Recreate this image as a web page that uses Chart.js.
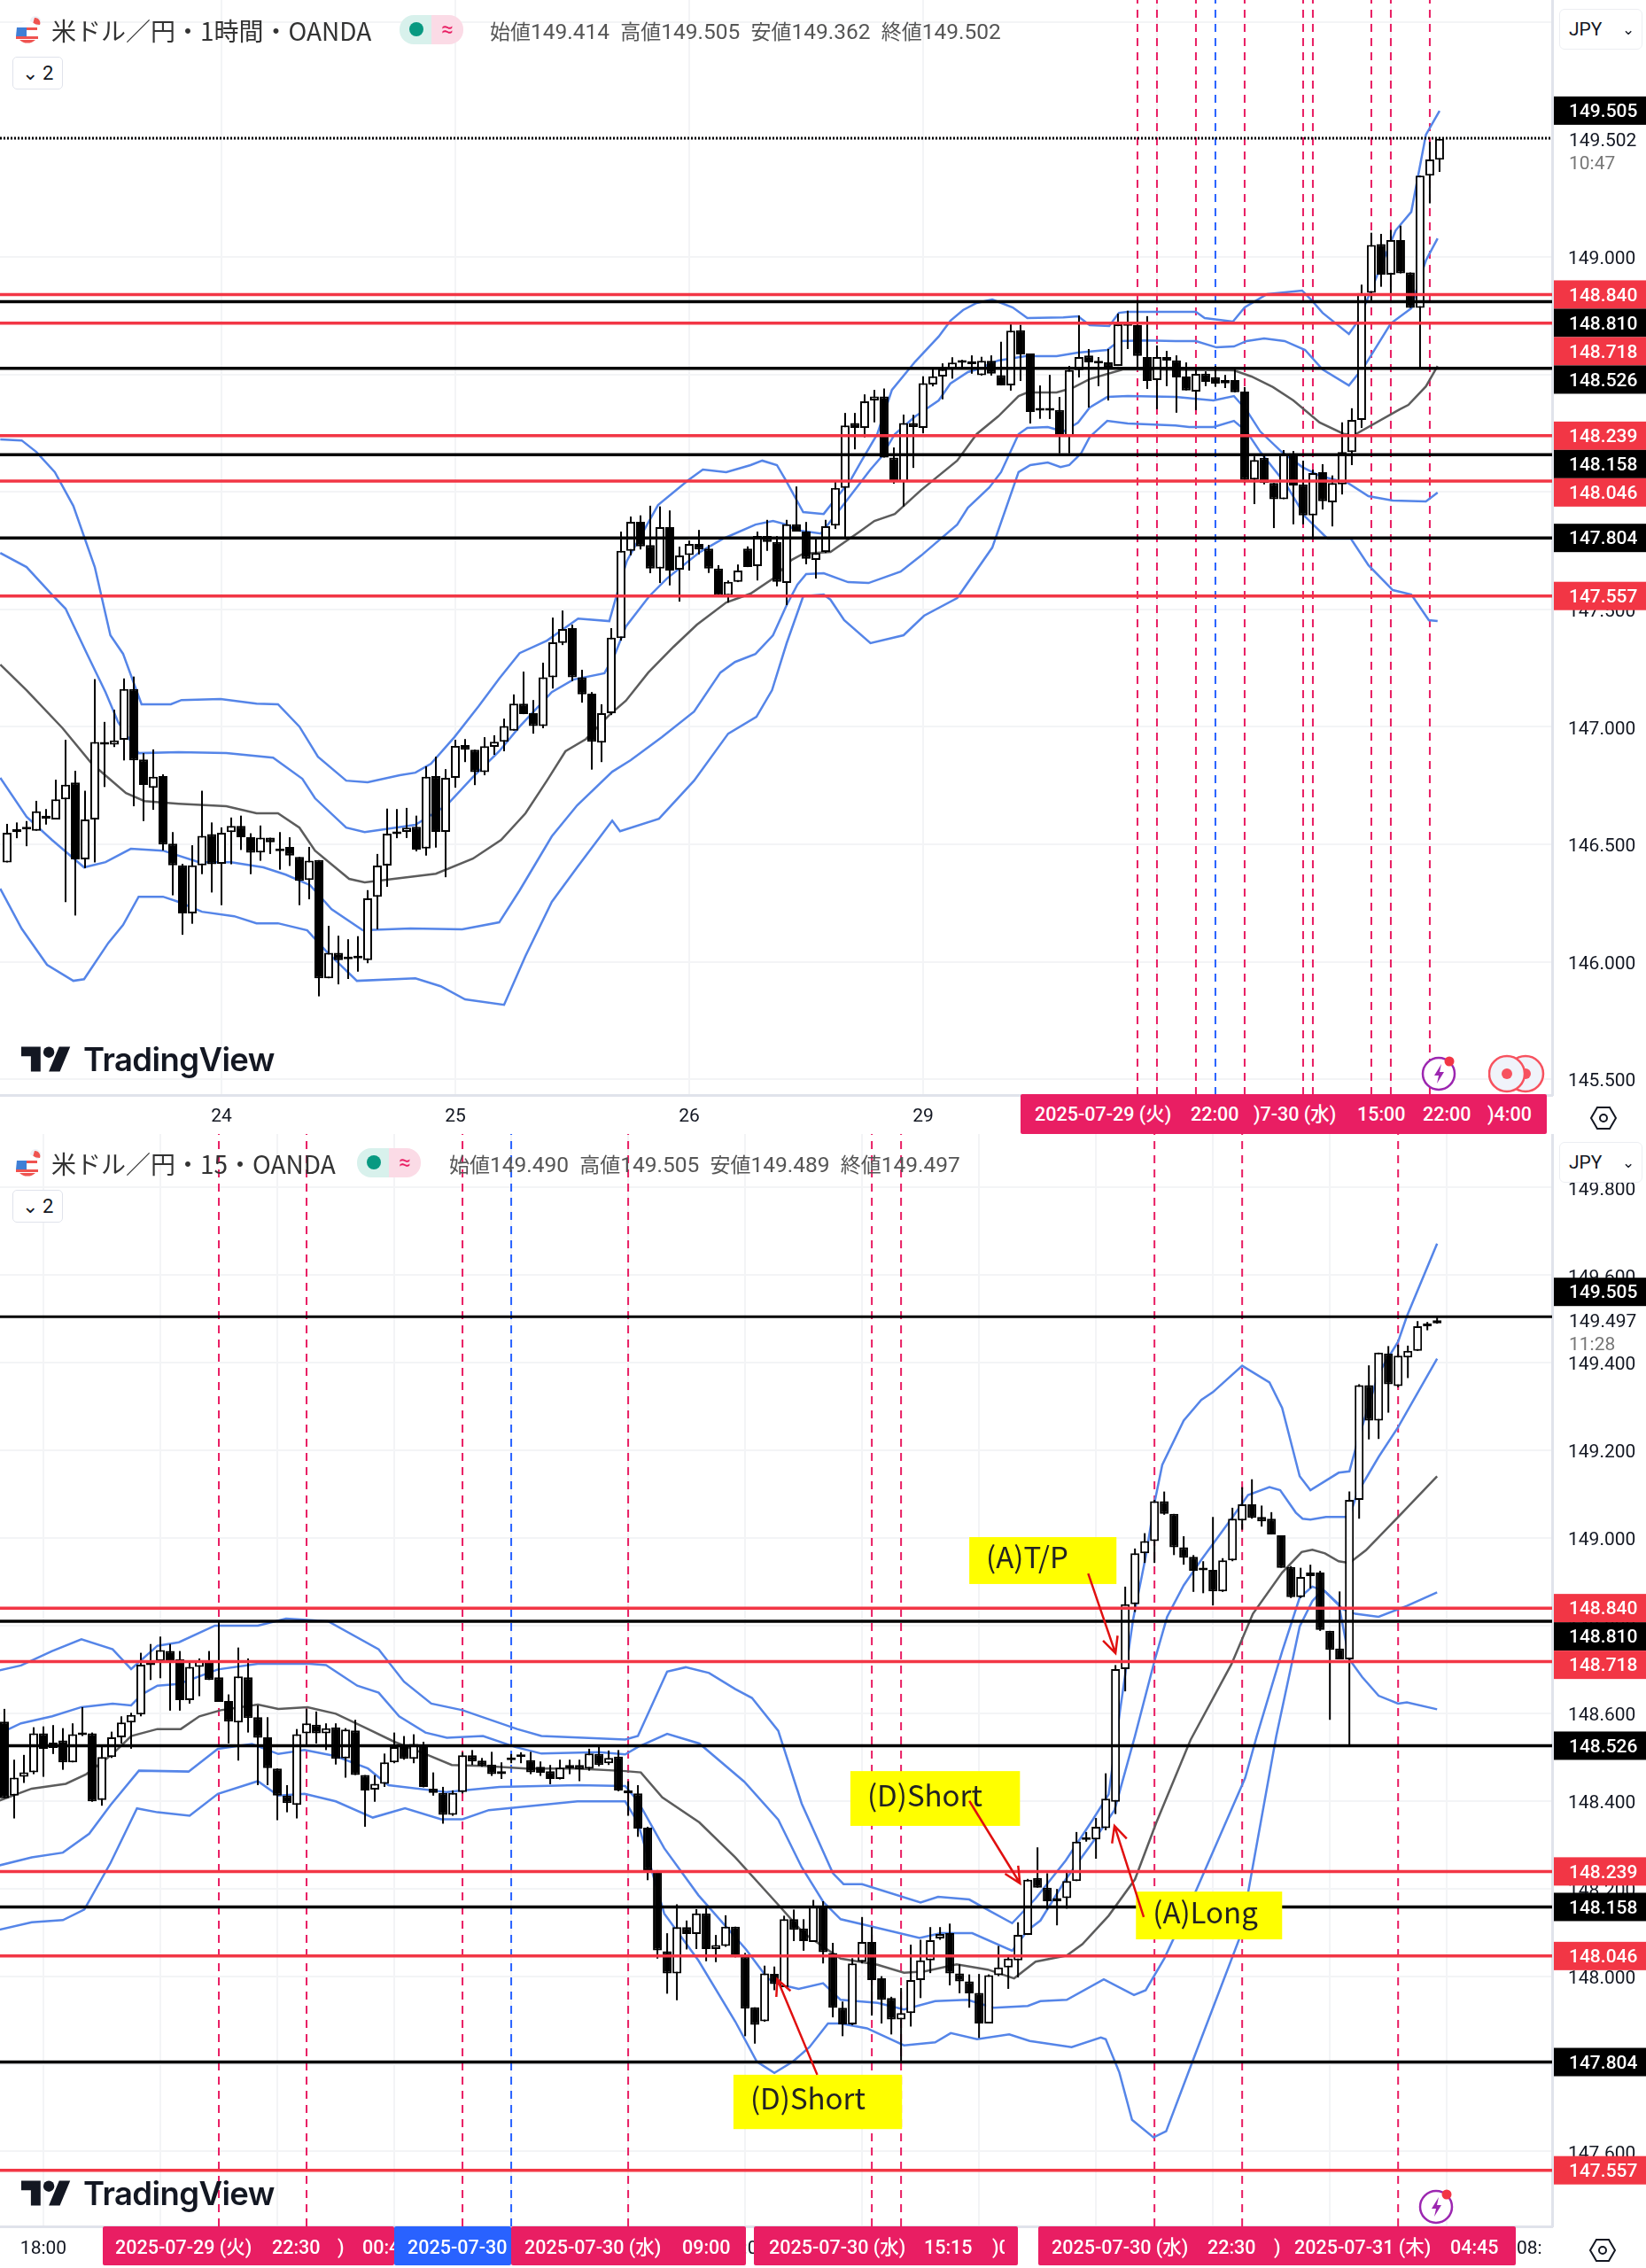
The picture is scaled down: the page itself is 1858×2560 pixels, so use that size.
<!DOCTYPE html>
<html>
<head>
<meta charset="utf-8">
<title>USD/JPY</title>
<script src="https://cdn.jsdelivr.net/npm/chart.js@4/dist/chart.umd.min.js"></script>
<style>
  html, body { margin: 0; padding: 0; background: #fff; }
  #page { position: relative; width: 1858px; height: 2560px; overflow: hidden; font-family: Roboto, "Noto Sans CJK JP", sans-serif; color: #131722; }
  canvas { position: absolute; left: 0; }
  .abs { position: absolute; white-space: nowrap; }
  .title { font-family: "Noto Sans CJK JP", Roboto, sans-serif; font-size: 28px; line-height: 34px; color: #333; }
  .ohlc { font-size: 24.5px; line-height: 34px; color: #555; font-family: Roboto, "Noto Sans CJK JP", sans-serif; }
  .ohlc b { font-weight: 400; font-family: "Noto Sans CJK JP"; font-size: 23px; }
  .chip { position: absolute; }
  .chipText { position: absolute; color: #fff; font-size: 21.5px; font-weight: 500; line-height: 30px; overflow: hidden; white-space: nowrap; height: 30px; }
  .chipText span { position: absolute; }
  .jpy { position: absolute; left: 1760px; width: 94px; height: 46px; background: #fff; border: 1px solid #eceef2; border-radius: 6px; box-sizing: border-box; font-size: 21px; line-height: 44px; padding-left: 10px; }
  .fold { position: absolute; left: 14px; width: 57px; height: 37px; background: #fff; border: 1px solid #e0e3eb; border-radius: 5px; box-sizing: border-box; font-size: 22px; line-height: 35px; text-align: center; }
  .logoText { font-family: Inter, sans-serif; font-weight: 600; font-size: 36.5px; line-height: 44px; letter-spacing: -0.6px; color: #131722; }
</style>
</head>
<body>
<div id="page">
  <canvas id="topChart" width="1858" height="1280" style="top:0"></canvas>
  <canvas id="bottomChart" width="1858" height="1280" style="top:1280px"></canvas>
  <div id="overlay"></div>
</div>
<script>
// price levels (top and bottom panels share them)
const redLevels = [148.840, 148.718, 148.239, 148.046, 147.557];
const blackLevels = [148.810, 148.526, 148.158, 147.804];
const highLevel = 149.505;

// y axis ticks
const topYTicks = [150, 149.5, 149, 148.5, 148, 147.5, 147, 146.5, 146, 145.5];
const bottomYTicks = [149.8, 149.6, 149.4, 149.2, 149, 148.8, 148.6, 148.4, 148.2, 148, 147.8, 147.6];

// x axis ticks (candle number -> label)
const topXTicks = [22, 46, 70, 94, 118, 142];
const topXLabels = ['24', '25', '26', '29', '30', '31'];
const bottomXTicks = [4, 16, 28, 40, 52, 64, 76, 88, 100, 112, 124, 136, 148];
const bottomXLabels = ['18:00', '21:00', '00:00', '03:00', '06:00', '09:00', '12:00', '15:00', '18:00', '21:00', '00:00', '03:00', '06:00'];

// dashed vertical markers (candle numbers)
const topMarkers = [116, 118, 122, 127, 133, 134, 140, 142, 146];
const topBlueMarkers = [124];
const bottomMarkers = [22, 31, 47, 64, 89, 92, 118, 127, 143];
const bottomBlueMarkers = [52];

// last price text on the axis
const topLast = 149.502, topCountdown = '10:47';
const bottomLast = 149.497, bottomCountdown = '11:28';

// 1 hour candles: open, high, low, close
const topCandles = [
[146.423,146.587,146.423,146.549],[146.552,146.593,146.526,146.564],[146.565,146.599,146.492,146.563],[146.558,146.685,146.558,146.641],
[146.622,146.650,146.584,146.609],[146.606,146.775,146.606,146.691],[146.691,146.945,146.254,146.754],[146.763,146.813,146.197,146.436],
[146.436,146.728,146.398,146.606],[146.606,147.203,146.423,146.936],[146.936,147.021,146.744,146.924],[146.924,147.073,146.914,146.942],
[146.945,147.206,146.857,147.161],[147.161,147.214,146.662,146.857],[146.861,146.888,146.599,146.753],[146.740,146.904,146.647,146.788],
[146.790,146.798,146.474,146.499],[146.503,146.552,146.283,146.411],[146.411,146.417,146.115,146.206],[146.206,146.496,146.162,146.411],
[146.411,146.728,146.373,146.536],[146.543,146.593,146.295,146.415],[146.417,146.572,146.241,146.549],[146.552,146.614,146.415,146.578],
[146.578,146.622,146.476,146.530],[146.530,146.547,146.373,146.464],[146.465,146.580,146.430,146.528],[146.528,146.528,146.459,146.509],
[146.474,146.552,146.392,146.471],[146.489,146.530,146.408,146.452],[146.446,146.446,146.241,146.345],[146.348,146.489,146.266,146.430],
[146.433,146.433,145.853,145.930],[145.930,146.153,145.930,146.038],[146.038,146.111,145.904,146.007],[146.017,146.096,145.927,146.011],
[146.017,146.109,145.958,146.015],[146.007,146.305,145.994,146.270],[146.277,146.459,146.138,146.410],[146.410,146.652,146.319,146.545],
[146.547,146.650,146.526,146.543],[146.553,146.655,146.527,146.571],[146.575,146.622,146.470,146.477],[146.482,146.832,146.452,146.788],
[146.790,146.873,146.486,146.553],[146.553,146.820,146.360,146.783],[146.783,146.945,146.741,146.919],[146.922,146.948,146.850,146.903],
[146.903,146.903,146.752,146.807],[146.807,146.956,146.794,146.918],[146.915,146.964,146.881,146.937],[146.937,147.035,146.896,147.003],
[146.984,147.138,146.984,147.099],[147.099,147.235,147.054,147.054],[147.058,147.114,146.971,147.003],[147.003,147.273,146.994,147.211],
[147.211,147.465,147.163,147.360],[147.357,147.495,147.348,147.416],[147.420,147.435,147.195,147.211],[147.211,147.243,147.103,147.138],
[147.141,147.148,146.818,146.937],[146.933,147.096,146.850,147.058],[147.058,147.420,147.050,147.380],[147.378,147.831,147.367,147.749],
[147.749,147.895,147.730,147.873],[147.873,147.900,147.755,147.768],[147.774,147.941,147.654,147.674],[147.674,147.938,147.612,147.850],
[147.850,147.921,147.602,147.665],[147.669,147.767,147.533,147.729],[147.731,147.793,147.665,147.778],[147.778,147.838,147.734,147.755],
[147.759,147.774,147.655,147.674],[147.674,147.688,147.559,147.559],[147.559,147.623,147.529,147.617],[147.617,147.691,147.616,147.665],
[147.759,147.768,147.680,147.680],[147.684,147.831,147.623,147.812],[147.812,147.881,147.749,147.787],[147.787,147.812,147.598,147.617],
[147.612,147.881,147.518,147.862],[147.862,148.023,147.831,147.831],[147.831,147.872,147.692,147.715],[147.710,147.806,147.631,147.740],
[147.744,147.881,147.740,147.854],[147.857,148.046,147.842,148.017],[148.017,148.336,147.805,148.283],[148.293,148.336,148.181,148.272],
[148.272,148.415,148.232,148.385],[148.389,148.434,148.296,148.406],[148.406,148.440,148.146,148.146],[148.146,148.189,148.035,148.042],
[148.042,148.329,147.938,148.293],[148.293,148.328,148.102,148.276],[148.272,148.492,148.249,148.463],[148.457,148.527,148.449,148.492],
[148.491,148.547,148.394,148.522],[148.525,148.573,148.482,148.550],[148.553,148.562,148.529,148.549],[148.547,148.581,148.503,148.544],
[148.497,148.575,148.495,148.558],[148.558,148.581,148.495,148.503],[148.497,148.639,148.453,148.453],[148.453,148.717,148.431,148.686],
[148.688,148.711,148.472,148.585],[148.589,148.589,148.291,148.340],[148.352,148.453,148.311,148.346],[148.352,148.498,148.310,148.346],
[148.349,148.404,148.164,148.238],[148.238,148.536,148.164,148.518],[148.518,148.751,148.487,148.574],[148.581,148.608,148.359,148.551],
[148.553,148.574,148.450,148.547],[148.551,148.608,148.389,148.529],[148.536,148.759,148.536,148.713],[148.713,148.771,148.608,148.707],
[148.710,148.809,148.529,148.579],[148.574,148.748,148.438,148.472],[148.476,148.623,148.352,148.574],[148.574,148.600,148.450,148.559],
[148.560,148.581,148.337,148.487],[148.491,148.551,148.432,148.432],[148.427,148.521,148.348,148.502],[148.503,148.513,148.450,148.468],
[148.488,148.536,148.447,148.461],[148.462,148.498,148.442,148.476],[148.476,148.521,148.424,148.424],[148.427,148.446,148.038,148.051],
[148.053,148.151,147.948,148.136],[148.145,148.160,148.032,148.038],[148.038,148.038,147.846,147.969],[147.969,148.178,147.969,148.162],
[148.164,148.174,147.862,148.027],[148.032,148.133,147.862,147.900],[147.900,148.095,147.806,148.080],[148.084,148.118,147.925,147.960],
[147.956,148.070,147.853,148.038],[148.032,148.296,147.989,148.170],[148.170,148.356,148.114,148.306],[148.306,148.882,148.272,148.846],
[148.847,149.103,148.812,149.051],[149.055,149.098,148.873,148.925],[148.925,149.115,148.843,149.072],[149.072,149.133,148.930,148.930],
[148.934,148.934,148.783,148.783],[148.783,149.346,148.526,149.346],[149.346,149.490,149.228,149.415],[149.414,149.505,149.362,149.502]
];

// 15 minute candles: open, high, low, close
const bottomCandles = [
[148.581,148.610,148.406,148.406],[148.412,148.494,148.360,148.453],[148.455,148.505,148.441,148.465],[148.465,148.568,148.461,148.554],
[148.554,148.570,148.455,148.519],[148.521,148.573,148.507,148.533],[148.538,148.566,148.471,148.488],[148.488,148.577,148.488,148.552],
[148.552,148.614,148.548,148.550],[148.554,148.556,148.398,148.399],[148.402,148.523,148.389,148.500],[148.500,148.558,148.498,148.545],
[148.545,148.593,148.531,148.579],[148.579,148.601,148.519,148.596],[148.597,148.738,148.593,148.711],[148.717,148.758,148.676,148.710],
[148.719,148.775,148.680,148.744],[148.742,148.758,148.606,148.719],[148.723,148.742,148.606,148.630],[148.630,148.721,148.622,148.706],
[148.706,148.725,148.639,148.719],[148.721,148.742,148.676,148.676],[148.682,148.810,148.626,148.626],[148.628,148.643,148.531,148.581],
[148.579,148.750,148.492,148.684],[148.682,148.725,148.556,148.589],[148.591,148.618,148.436,148.544],[148.545,148.591,148.436,148.475],
[148.474,148.474,148.356,148.412],[148.412,148.436,148.374,148.395],[148.391,148.564,148.360,148.552],[148.554,148.610,148.523,148.577],
[148.574,148.604,148.531,148.554],[148.554,148.577,148.516,148.566],[148.568,148.577,148.483,148.496],[148.497,148.566,148.453,148.563],
[148.561,148.585,148.459,148.459],[148.459,148.459,148.341,148.424],[148.426,148.459,148.398,148.439],[148.439,148.508,148.432,148.488],
[148.488,148.556,148.486,148.523],[148.523,148.548,148.494,148.496],[148.496,148.552,148.486,148.530],[148.527,148.535,148.431,148.432],
[148.428,148.465,148.412,148.418],[148.418,148.432,148.348,148.368],[148.368,148.424,148.366,148.418],[148.420,148.511,148.417,148.504],
[148.504,148.516,148.482,148.490],[148.492,148.498,148.478,148.480],[148.483,148.512,148.457,148.461],[148.461,148.488,148.450,148.468],
[148.496,148.507,148.486,148.493],[148.500,148.511,148.486,148.502],[148.493,148.512,148.461,148.465],[148.478,148.490,148.457,148.464],
[148.468,148.482,148.438,148.450],[148.450,148.494,148.449,148.476],[148.474,148.494,148.461,148.482],[148.482,148.494,148.445,148.472],
[148.474,148.519,148.469,148.508],[148.507,148.527,148.479,148.482],[148.486,148.515,148.482,148.498],[148.501,148.516,148.422,148.424],
[148.424,148.445,148.366,148.417],[148.417,148.436,148.318,148.337],[148.339,148.341,148.219,148.242],[148.241,148.242,148.040,148.059],
[148.057,148.098,147.960,148.006],[148.006,148.164,147.945,148.112],[148.112,148.127,148.061,148.096],[148.096,148.153,148.062,148.143],
[148.143,148.156,148.034,148.062],[148.062,148.094,148.032,148.071],[148.069,148.139,148.067,148.113],[148.113,148.113,148.043,148.044],
[148.044,148.053,147.863,147.926],[147.929,147.929,147.846,147.889],[147.897,148.024,147.896,148.006],[148.005,148.022,147.968,147.982],
[147.975,148.138,147.975,148.130],[148.130,148.152,148.080,148.106],[148.109,148.130,148.058,148.080],[148.078,148.174,148.078,148.159],
[148.159,148.171,148.029,148.055],[148.053,148.076,147.906,147.928],[147.928,147.942,147.863,147.890],[147.890,148.041,147.888,148.029],
[148.033,148.135,148.029,148.078],[148.078,148.112,147.910,147.991],[147.995,148.000,147.892,147.946],[147.950,147.953,147.867,147.901],
[147.901,147.973,147.806,147.916],[147.916,148.072,147.885,147.991],[147.991,148.083,147.950,148.036],[148.036,148.112,148.007,148.082],
[148.086,148.112,148.083,148.096],[148.098,148.120,147.979,148.006],[148.006,148.027,147.961,147.988],[147.988,148.004,147.928,147.961],
[147.962,148.005,147.859,147.892],[147.892,148.004,147.892,148.002],[148.002,148.069,148.000,148.020],[148.020,148.047,147.971,148.040],
[148.036,148.123,147.997,148.094],[148.094,148.222,148.094,148.220],[148.224,148.294,148.202,148.202],[148.202,148.235,148.152,148.171],
[148.171,148.199,148.116,148.178],[148.178,148.242,148.154,148.217],[148.217,148.329,148.217,148.307],[148.312,148.329,148.307,148.311],
[148.312,148.361,148.268,148.341],[148.338,148.463,148.333,148.405],[148.398,148.710,148.370,148.701],[148.701,148.889,148.650,148.849],
[148.849,148.976,148.831,148.965],[148.965,149.011,148.943,148.993],[148.993,149.087,148.943,149.084],[149.084,149.106,149.053,149.055],
[149.055,149.055,148.961,148.979],[148.979,149.004,148.939,148.955],[148.957,148.961,148.877,148.925],[148.927,148.947,148.874,148.926],
[148.927,149.048,148.846,148.878],[148.878,148.954,148.877,148.949],[148.949,149.069,148.947,149.044],[149.040,149.116,149.019,149.077],
[149.077,149.134,149.044,149.046],[149.048,149.074,149.026,149.038],[149.044,149.059,149.008,149.008],[149.006,149.006,148.932,148.932],
[148.934,148.936,148.863,148.865],[148.865,148.932,148.863,148.911],[148.913,148.939,148.885,148.921],[148.921,148.925,148.788,148.790],
[148.788,148.788,148.585,148.745],[148.748,148.878,148.723,148.723],[148.723,149.106,148.526,149.087],[149.087,149.351,149.044,149.349],
[149.349,149.394,149.225,149.268],[149.268,149.423,149.226,149.423],[149.421,149.438,149.286,149.351],[149.347,149.441,149.344,149.416],
[149.412,149.439,149.365,149.427],[149.427,149.495,149.427,149.483],[149.483,149.493,149.474,149.490],[149.490,149.505,149.489,149.497]
];

// bands, [candle number, price]
const topUpper2 = [[-0.7,148.223],[1.5,148.219],[3,148.17],[4.9,148.084],[6.8,147.94],[9,147.68],[10.6,147.39],[11.9,147.311],[13.8,147.096],[16.8,147.096],[17.9,147.114],[21.9,147.118],[25.6,147.099],[27.8,147.096],[30,147.001],[31.9,146.873],[34.8,146.771],[37,146.764],[40.3,146.794],[41.9,146.805],[43.5,146.843],[45.9,146.956],[48.4,147.088],[50.5,147.205],[52.6,147.314],[55.4,147.367],[58.6,147.461],[61.8,147.45],[62.6,147.567],[63.6,147.706],[66.8,147.944],[69.9,148.05],[71.4,148.095],[73.8,148.084],[76.3,148.114],[77.5,148.133],[79,148.114],[79.9,148.05],[81.7,147.914],[83.8,147.906],[85,147.97],[86.5,148.046],[87.7,148.133],[89.3,148.246],[90.8,148.434],[93.2,148.555],[95.6,148.661],[96.8,148.728],[98.1,148.774],[99.5,148.804],[101.1,148.819],[103.2,148.785],[104.7,148.74],[108.4,148.743],[109.9,148.747],[111.1,148.71],[113.1,148.706],[114.1,148.762],[115,148.766],[122,148.766],[122.9,148.74],[125.8,148.725],[127,148.785],[129.3,148.842],[132.9,148.857],[133.8,148.819],[135,148.762],[137.7,148.672],[138.6,148.725],[139.5,148.811],[142.5,149.113],[144.1,149.192],[145.6,149.52],[147,149.622]];
const topUpper1 = [[-0.7,147.74],[2,147.68],[4.6,147.563],[6,147.503],[8.2,147.311],[10.1,147.148],[11.4,147.02],[13.5,146.888],[17.6,146.892],[22.5,146.888],[27.3,146.869],[30.3,146.779],[31.6,146.696],[34.8,146.571],[36.7,146.552],[41.9,146.583],[45.1,146.666],[47.8,146.786],[50.5,146.896],[52.6,147.001],[55.9,147.148],[58.1,147.201],[61.3,147.228],[62.4,147.311],[63.5,147.427],[65.9,147.556],[67.7,147.631],[71.1,147.744],[73.5,147.801],[76.8,147.861],[78.6,147.876],[80,147.861],[80.9,147.838],[83.5,147.823],[85.6,147.933],[88.6,148.095],[89.7,148.148],[91.1,148.246],[93.2,148.321],[95.6,148.389],[96.8,148.461],[98.6,148.51],[99.5,148.521],[101.7,148.559],[104.5,148.578],[107.7,148.578],[109.9,148.593],[112.9,148.604],[114.1,148.642],[116.8,148.645],[119.9,148.642],[122,148.642],[124.1,148.615],[125.9,148.619],[127.2,148.642],[129,148.653],[131.1,148.642],[133.2,148.604],[135,148.521],[137.7,148.453],[139.3,148.536],[142,148.717],[144.1,148.781],[144.9,148.898],[145.6,148.985],[146.8,149.079]];
const topMiddle = [[-0.7,147.265],[2,147.156],[5.7,146.994],[8.7,146.843],[12.2,146.718],[14.1,146.684],[17.6,146.673],[22.5,146.662],[25.6,146.632],[27.8,146.632],[30,146.571],[31.6,146.473],[35.1,146.353],[36.7,146.338],[44,146.375],[47.8,146.439],[50.7,146.519],[53.2,146.632],[55.4,146.771],[57.3,146.896],[59.4,146.948],[61.8,147.05],[63.5,147.111],[65.8,147.231],[68.4,147.341],[70.8,147.435],[73.8,147.529],[76.3,147.567],[78.6,147.631],[80.5,147.71],[81.7,147.737],[84.5,147.744],[87.5,147.831],[89,147.876],[91.1,147.906],[93.8,148.008],[97.5,148.133],[99.5,148.246],[101.7,148.321],[103.8,148.408],[104.7,148.423],[107.7,148.423],[109.3,148.442],[111.1,148.48],[114.5,148.521],[116.8,148.521],[125.9,148.517],[127.7,148.491],[129.9,148.446],[132,148.389],[134.7,148.295],[137.2,148.246],[138.4,148.246],[142.9,148.351],[143.8,148.37],[145.6,148.449],[146.8,148.536]];
const topLower1 = [[-0.7,146.783],[2,146.617],[4.6,146.519],[7.9,146.402],[10.1,146.424],[12.7,146.481],[16,146.473],[19.7,146.424],[23,146.424],[26.3,146.402],[28.6,146.371],[31.1,146.326],[33.3,146.224],[36.5,146.134],[41.4,146.142],[46.7,146.138],[50.5,146.168],[52.6,146.304],[55.9,146.534],[58.5,146.666],[62.1,146.809],[64,146.858],[67.2,146.956],[70.5,147.065],[73.2,147.231],[74.7,147.276],[76.8,147.31],[78.6,147.39],[80,147.518],[81.1,147.605],[82,147.65],[83.8,147.654],[86.3,147.616],[88.4,147.612],[91.7,147.661],[93.8,147.729],[97.5,147.861],[98.6,147.933],[100.8,148.019],[102,148.084],[103.8,148.246],[104.7,148.272],[106.8,148.276],[108.4,148.257],[109.9,148.295],[111.1,148.359],[112.9,148.404],[115,148.408],[119.9,148.404],[123.8,148.389],[125.9,148.408],[127.2,148.347],[128.6,148.257],[130.8,148.17],[132.9,148.106],[134.7,148.068],[137.6,148.038],[139.7,147.982],[142.2,147.963],[145.6,147.959],[146.8,147.997]];
const topLower2 = [[-0.7,146.311],[1.5,146.141],[4.1,145.987],[6.8,145.919],[7.9,145.926],[10.4,146.081],[11.9,146.157],[13.5,146.277],[16,146.277],[17.6,146.255],[20,146.213],[23.3,146.194],[25.6,146.164],[27.8,146.164],[30.8,146.134],[32.7,146.047],[35.9,145.919],[41.9,145.93],[44.5,145.896],[47,145.84],[51,145.817],[53.2,146.025],[55.9,146.255],[58.5,146.402],[62.1,146.601],[62.9,146.556],[66.9,146.609],[70.5,146.771],[74,146.971],[76.9,147.043],[78.5,147.156],[80,147.356],[81.7,147.556],[83.8,147.563],[84.5,147.541],[85.9,147.454],[88.6,147.356],[92,147.39],[94.1,147.473],[97.5,147.548],[101.1,147.763],[103.8,148.084],[105,148.114],[106.8,148.125],[108.1,148.106],[109,148.114],[110.2,148.163],[111.1,148.234],[112.9,148.302],[115,148.291],[119.9,148.283],[121.3,148.276],[123.8,148.276],[125.9,148.302],[127.2,148.257],[128.6,148.17],[131.2,148.035],[133.2,147.895],[135.5,147.801],[137.9,147.801],[139.7,147.688],[142.2,147.582],[144.1,147.563],[145.9,147.454],[146.8,147.45]];

const bottomUpper2 = [[-0.5,148.698],[1.7,148.709],[4.9,148.742],[7.9,148.769],[11.1,148.746],[13,148.701],[15.7,148.754],[17.9,148.762],[21.6,148.8],[26,148.8],[28.9,148.816],[33.2,148.81],[38.4,148.746],[41,148.672],[43.8,148.622],[47,148.607],[52.6,148.564],[55.1,148.548],[63.7,148.54],[65,148.548],[68,148.695],[69.9,148.705],[72.3,148.692],[75,148.655],[76.7,148.635],[79.4,148.56],[81.8,148.394],[85,148.235],[86.1,148.21],[88,148.21],[94,148.168],[95.8,148.181],[99,148.175],[101,148.15],[103.4,148.121],[105.8,148.177],[108.9,148.264],[111.7,148.358],[113.3,148.415],[114.5,148.611],[115.8,148.813],[117.1,148.957],[118,149.08],[118.8,149.167],[121,149.268],[122.8,149.315],[124,149.333],[127,149.393],[129.8,149.355],[131.1,149.297],[132.9,149.141],[134,149.109],[136.9,149.149],[138,149.152],[138.8,149.217],[141,149.376],[143,149.448],[143.9,149.506],[147,149.672]];
const bottomUpper1 = [[-0.5,148.554],[1.7,148.577],[4.9,148.593],[7.9,148.614],[11.1,148.622],[13,148.618],[14.1,148.643],[15.7,148.663],[17.9,148.667],[21.9,148.7],[26,148.713],[31.3,148.713],[33,148.71],[36.2,148.663],[38.4,148.647],[40.5,148.593],[43.2,148.556],[45.4,148.544],[49.1,148.548],[52.4,148.523],[55.1,148.508],[61,148.511],[63.7,148.506],[65,148.523],[68,148.553],[71.3,148.531],[75.9,148.444],[79.4,148.357],[81.8,148.249],[84,148.17],[85.8,148.13],[88.5,148.116],[93.9,148.087],[96.1,148.098],[99.3,148.098],[103.4,148.058],[105,148.105],[106.3,148.127],[108.9,148.221],[111.7,148.307],[113.9,148.379],[116,148.548],[118,148.719],[119.3,148.82],[121,148.892],[122.8,148.95],[125.9,149.044],[127.6,149.098],[129.8,149.116],[130.9,149.109],[132.5,149.058],[133.2,149.044],[134,149.042],[135.6,149.048],[138,149.048],[138.8,149.102],[141,149.185],[143,149.253],[147,149.409]];
const bottomMiddle = [[-0.5,148.401],[2.8,148.428],[6.3,148.439],[8.4,148.461],[11.1,148.507],[13,148.548],[15.7,148.564],[18.1,148.564],[20,148.593],[22.2,148.607],[26,148.62],[28.1,148.61],[31.1,148.614],[34,148.599],[37.3,148.564],[40,148.535],[43.2,148.507],[45.9,148.482],[49.1,148.48],[53.5,148.474],[58.8,148.474],[63.7,148.468],[65.3,148.465],[67.5,148.408],[71.3,148.351],[75,148.271],[79.4,148.163],[82,148.098],[85.8,148.04],[89.6,148.026],[92.3,148.008],[94.4,148.011],[97.7,148.027],[100.9,148.015],[103.6,147.995],[105.8,148.033],[109,148.047],[110.6,148.073],[113.3,148.138],[116,148.221],[118.2,148.351],[121.7,148.539],[125.9,148.712],[128.1,148.827],[131.1,148.921],[133.1,148.968],[134.2,148.973],[135.5,148.965],[136.9,148.947],[138,148.943],[139.7,148.972],[143,149.048],[147,149.141]];
const bottomLower1 = [[-0.5,148.253],[2.8,148.271],[6,148.282],[8.7,148.325],[10.9,148.391],[13.8,148.469],[18.9,148.467],[21.9,148.519],[25.4,148.53],[28.1,148.507],[30.8,148.516],[34,148.502],[37.3,148.474],[39.4,148.436],[45.4,148.42],[47,148.424],[50.8,148.432],[58.8,148.436],[63.7,148.434],[65,148.399],[67.7,148.292],[71.2,148.185],[76.1,148.061],[78.3,147.995],[79.4,147.982],[81.5,147.971],[84,147.984],[85.8,147.946],[89.6,147.939],[92.3,147.924],[95.5,147.943],[98.8,147.946],[101.5,147.928],[105,147.932],[106.3,147.943],[109,147.946],[112.8,147.993],[115.9,147.957],[117.1,147.968],[119,148.04],[122.2,148.192],[127.3,148.452],[128.5,148.548],[131.1,148.741],[132.9,148.864],[134.2,148.889],[135.5,148.878],[137.3,148.838],[138.6,148.827],[141,148.82],[143.9,148.845],[147,148.876]];
const bottomLower2 = [[-0.5,148.106],[2.8,148.123],[6,148.128],[8.2,148.152],[10.9,148.259],[13.6,148.383],[15.7,148.374],[19,148.366],[21.9,148.416],[26,148.445],[28.1,148.412],[30.8,148.416],[34,148.399],[37.8,148.362],[41.1,148.383],[44.8,148.358],[47,148.358],[49.7,148.379],[58.8,148.399],[63.7,148.399],[65,148.35],[67.7,148.143],[71.2,148.036],[75,147.896],[77.2,147.805],[79,147.779],[80.9,147.805],[82.6,147.838],[84.5,147.892],[85.8,147.892],[88.5,147.881],[92.3,147.842],[95.5,147.849],[97.1,147.87],[99.8,147.856],[103.1,147.867],[105.2,147.852],[109.5,147.838],[112.5,147.86],[113,147.856],[114.4,147.78],[115.7,147.672],[117.9,147.632],[119.2,147.646],[121.9,147.805],[126.8,148.091],[130.5,148.548],[132.9,148.798],[134.2,148.856],[135.3,148.882],[136.9,148.849],[138,148.723],[139.3,148.683],[141,148.64],[143,148.622],[143.9,148.625],[147,148.609]];

// notes on the 15 minute chart: text, from candle, to candle, high price, low price
const noteBoxes = [
  ['(A)T/P', 99, 114.1, 149.002, 148.895],
  ['(D)Short', 86.8, 104.2, 148.468, 148.343],
  ['(D)Short', 74.8, 92.1, 147.775, 147.651],
  ['(A)Long', 116.1, 131.1, 148.193, 148.084]
];
// arrows: from candle, from price, to candle, to price
const noteArrows = [
  [111.2, 148.919, 114, 148.737],
  [99, 148.4, 104.2, 148.212],
  [83.4, 147.775, 79.3, 147.993],
  [116.9, 148.135, 113.9, 148.343]
];

const RED = '#f23645', PINK = '#e91e63', BLUE = '#2962ff', BAND = '#5585e8', AXIS_LINE = '#e0e3eb', GRID = '#f3f4f6';
const FONT = 'Roboto, "Noto Sans CJK JP", sans-serif';

function lineSet(points, color, width, order, dash) {
    return {
        type: 'line',
        data: points.map(p => ({ x: p[0], y: p[1] })),
        borderColor: color,
        borderWidth: width,
        borderDash: dash || [],
        pointRadius: 0,
        tension: 0,
        order: order
    };
}

function buildDatasets(candles, bands, markers, blueMarkers, levelDash, xMin, xMax, yMin, yMax) {
    const sets = [];
    // bodies drawn above wicks, lowest order is painted last
    sets.push({
        type: 'bar',
        data: candles.map((c, i) => ({ x: i, y: [c[3], c[0]] })),
        backgroundColor: candles.map(c => c[3] >= c[0] ? '#fff' : '#000'),
        borderColor: '#000',
        borderWidth: 2,
        borderSkipped: false,
        barThickness: 10,
        minBarLength: 3,
        grouped: false,
        inflateAmount: 0,
        order: 3
    });
    sets.push({
        type: 'bar',
        data: candles.map((c, i) => ({ x: i, y: [c[2], c[1]] })),
        backgroundColor: '#000',
        borderWidth: 0,
        barThickness: 2,
        grouped: false,
        inflateAmount: 0,
        order: 4
    });
    bands.slice(0, 2).concat(bands.slice(3)).forEach(b => sets.push(lineSet(b, BAND, 2.5, 5)));
    sets.push(lineSet(bands[2], '#5c5c5c', 2.5, 5));
    markers.forEach(m => sets.push(lineSet([[m, yMin], [m, yMax]], PINK, 2, 6, [9, 7])));
    blueMarkers.forEach(m => sets.push(lineSet([[m, yMin], [m, yMax]], BLUE, 2, 6, [9, 7])));
    redLevels.forEach(l => sets.push(lineSet([[xMin, l], [xMax, l]], RED, 3.5, 1)));
    blackLevels.forEach(l => sets.push(lineSet([[xMin, l], [xMax, l]], '#000', 3.5, 1)));
    sets.push(lineSet([[xMin, highLevel], [xMax, highLevel]], '#000', 3, 1, levelDash));
    return sets;
}

// price tags on the right axis, stacked downward when they would overlap
const priceTags = {
    id: 'priceTags',
    afterDraw(chart, args, opts) {
        const { ctx } = chart;
        const y = chart.scales.y;
        const left = chart.chartArea.right + 2;
        const width = chart.width - left;
        const h = 32;
        const lastY = y.getPixelForValue(opts.last);
        ctx.save();
        ctx.textAlign = 'left';
        ctx.textBaseline = 'middle';
        // last price with the countdown under it
        ctx.fillStyle = '#fff';
        ctx.fillRect(left, lastY - 16, width, 56);
        ctx.font = '21px ' + FONT;
        ctx.fillStyle = '#131722';
        ctx.fillText(opts.last.toFixed(3), left + 17, lastY + 3);
        ctx.fillStyle = '#777';
        ctx.fillText(opts.countdown, left + 17, lastY + 29);

        const tags = redLevels.map(v => ({ v, c: RED })).concat(blackLevels.map(v => ({ v, c: '#000' })));
        tags.sort((a, b) => b.v - a.v);
        const drawTag = (tag, py) => {
            ctx.fillStyle = tag.c;
            ctx.fillRect(left, py - h / 2, width, h);
            ctx.fillStyle = '#fff';
            ctx.font = '500 21px ' + FONT;
            ctx.fillText(tag.v.toFixed(3), left + 17, py + 2);
        };
        drawTag({ v: highLevel, c: '#000' }, Math.min(y.getPixelForValue(highLevel), lastY - h));
        let prevBottom = -Infinity;
        tags.forEach(t => {
            const py = Math.max(y.getPixelForValue(t.v), prevBottom + h / 2);
            drawTag(t, py);
            prevBottom = py + h / 2;
        });
        ctx.restore();
    }
};

// yellow boxes and red arrows of the 15 minute chart
const notes = {
    id: 'notes',
    afterDatasetsDraw(chart) {
        if (chart.canvas.id !== 'bottomChart') return;
        const { ctx, scales: { x, y } } = chart;
        ctx.save();
        noteBoxes.forEach(b => {
            const x0 = x.getPixelForValue(b[1]), x1 = x.getPixelForValue(b[2]);
            const y0 = y.getPixelForValue(b[3]), y1 = y.getPixelForValue(b[4]);
            ctx.fillStyle = '#ffff00';
            ctx.fillRect(x0, y0, x1 - x0, y1 - y0);
            ctx.fillStyle = '#222';
            ctx.font = '33px "Noto Sans CJK JP", sans-serif';
            ctx.textBaseline = 'middle';
            ctx.textAlign = 'left';
            ctx.fillText(b[0], x0 + 19, (y0 + y1) / 2 - 4);
        });
        ctx.strokeStyle = '#e01010';
        ctx.lineWidth = 2.5;
        noteArrows.forEach(a => {
            const x0 = x.getPixelForValue(a[0]), y0 = y.getPixelForValue(a[1]);
            const x1 = x.getPixelForValue(a[2]), y1 = y.getPixelForValue(a[3]);
            const ang = Math.atan2(y1 - y0, x1 - x0);
            ctx.beginPath();
            ctx.moveTo(x0, y0);
            ctx.lineTo(x1, y1);
            ctx.moveTo(x1 - 20 * Math.cos(ang - 0.45), y1 - 20 * Math.sin(ang - 0.45));
            ctx.lineTo(x1, y1);
            ctx.lineTo(x1 - 20 * Math.cos(ang + 0.45), y1 - 20 * Math.sin(ang + 0.45));
            ctx.stroke();
        });
        ctx.restore();
    }
};

function makeChart(id, cfg) {
    const xLabel = {};
    cfg.xTicks.forEach((t, i) => { xLabel[t] = cfg.xLabels[i]; });
    return new Chart(document.getElementById(id), {
        type: 'bar',
        data: { datasets: buildDatasets(cfg.candles, cfg.bands, cfg.markers, cfg.blueMarkers, cfg.levelDash, cfg.xMin, cfg.xMax, cfg.yMin, cfg.yMax) },
        plugins: [priceTags, notes],
        options: {
            responsive: false,
            devicePixelRatio: 1,
            animation: false,
            events: [],
            layout: { padding: 0 },
            plugins: {
                legend: { display: false },
                tooltip: { enabled: false },
                priceTags: { last: cfg.last, countdown: cfg.countdown }
            },
            scales: {
                x: {
                    type: 'linear',
                    bounds: 'data',
                    offset: false,
                    min: cfg.xMin,
                    max: cfg.xMax,
                    grid: { offset: false, color: GRID, lineWidth: 2, drawTicks: false },
                    border: { color: AXIS_LINE, width: 3 },
                    ticks: {
                        autoSkip: false,
                        maxRotation: 0,
                        padding: cfg.xPad,
                        color: '#131722',
                        font: { family: FONT, size: 21 },
                        callback: v => xLabel[v]
                    },
                    afterBuildTicks: s => { s.ticks = cfg.xTicks.map(v => ({ value: v })); },
                    afterFit: s => { s.height = cfg.xHeight; s.paddingLeft = 0; s.paddingRight = 0; }
                },
                y: {
                    type: 'linear',
                    position: 'right',
                    bounds: 'data',
                    min: cfg.yMin,
                    max: cfg.yMax,
                    grid: { color: GRID, lineWidth: 2, drawTicks: false },
                    border: { color: AXIS_LINE, width: 3 },
                    ticks: {
                        padding: 18,
                        labelOffset: 3,
                        color: '#131722',
                        font: { family: FONT, size: 21 },
                        callback: v => v.toFixed(3)
                    },
                    afterBuildTicks: s => { s.ticks = cfg.yTicks.map(v => ({ value: v })); },
                    afterFit: s => { s.width = 106; s.paddingTop = 0; s.paddingBottom = 0; }
                }
            }
        }
    });
}

makeChart('topChart', {
    candles: topCandles,
    bands: [topUpper2, topUpper1, topMiddle, topLower1, topLower2],
    markers: topMarkers, blueMarkers: topBlueMarkers,
    levelDash: [2, 2],
    xTicks: topXTicks, xLabels: topXLabels, yTicks: topYTicks,
    xMin: -0.727, xMax: 158.55, yMin: 145.433, yMax: 150.0935,
    xHeight: 44, xPad: 12,
    last: topLast, countdown: topCountdown
});

makeChart('bottomChart', {
    candles: bottomCandles,
    bands: [bottomUpper2, bottomUpper1, bottomMiddle, bottomLower1, bottomLower2],
    markers: bottomMarkers, blueMarkers: bottomBlueMarkers,
    levelDash: [],
    xTicks: bottomXTicks, xLabels: bottomXLabels, yTicks: bottomYTicks,
    xMin: -0.4545, xMax: 158.8, yMin: 147.429, yMax: 149.922,
    xHeight: 47, xPad: 13,
    last: bottomLast, countdown: bottomCountdown
});

// chrome around the charts: header rows, time chips, logo, icons
const overlay = document.getElementById('overlay');

function addHtml(html) {
    overlay.insertAdjacentHTML('beforeend', html);
}

function addChip(left, right, top, height, color) {
    addHtml(`<div class="chip" style="left:${left}px;width:${right - left}px;top:${top}px;height:${height}px;background:${color};border-radius:2px"></div>`);
}

function addChipText(left, right, top, text) {
    addHtml(`<div class="chipText" style="left:${left}px;width:${right - left}px;top:${top}px"><span style="left:0">${text}</span></div>`);
}

function addHeader(dy, title, pillLeft, ohlcLeft, ohlc) {
    addHtml(`<svg class="abs" style="left:17px;top:${dy + 17}px" width="30" height="34" viewBox="0 0 30 34">
      <circle cx="23" cy="7" r="6" fill="#eef0f6"/><path d="M22 3a6 6 0 0 1 6 8l-8-1z" fill="#ef5350"/>
      <circle cx="14" cy="20" r="13" fill="#fff"/><path d="M3 14h22v3H3zM1 24h25v3H1z" fill="#ef5350"/><path d="M5 28h18a13 13 0 0 1-18 0z" fill="#ef5350"/>
      <path d="M2 14h11v10H1z" fill="#3f7fd6"/></svg>`);
    addHtml(`<div class="abs title" style="left:58px;top:${dy + 17}px">${title}</div>`);
    addHtml(`<div class="abs" style="left:${pillLeft}px;top:${dy + 17}px;width:36px;height:33px;background:#d8f1ec;border-radius:16px 0 0 16px"></div>
      <div class="abs" style="left:${pillLeft + 36}px;top:${dy + 17}px;width:36px;height:33px;background:#fbdbe6;border-radius:0 16px 16px 0;color:#e91e63;font-size:24px;line-height:32px;text-align:center">≈</div>
      <div class="abs" style="left:${pillLeft + 11}px;top:${dy + 25}px;width:16px;height:16px;background:#089981;border-radius:50%"></div>`);
    addHtml(`<div class="abs ohlc" style="left:${ohlcLeft}px;top:${dy + 17}px"><b>始値</b>${ohlc[0]}&nbsp; <b>高値</b>${ohlc[1]}&nbsp; <b>安値</b>${ohlc[2]}&nbsp; <b>終値</b>${ohlc[3]}</div>`);
    addHtml(`<div class="fold" style="top:${dy + 64}px">⌄&nbsp;2</div>`);
    addHtml(`<div class="jpy" style="top:${dy + 10}px">JPY<span style="position:absolute;right:8px;font-size:17px">⌄</span></div>`);
}

function addLogo(dy) {
    addHtml(`<svg class="abs" style="left:24px;top:${dy + 1175}px" width="56" height="44" viewBox="0 0 36 28"><path d="M14 22H7V11H0V4h14v18zM28 22h-8l7.5-18h8L28 22z" fill="#131722"/><circle cx="20" cy="8" r="4" fill="#131722"/></svg>`);
    addHtml(`<div class="abs logoText" style="left:94px;top:${dy + 1174}px">TradingView</div>`);
}

function addFlash(cx, cy) {
    addHtml(`<svg class="abs" style="left:${cx - 24}px;top:${cy - 26}px" width="50" height="50" viewBox="0 0 50 50">
      <circle cx="24" cy="26" r="18" fill="#fff" stroke="#9c27b0" stroke-width="2.5"/>
      <path d="M27 15l-8 13h5l-2 9 8-13h-5z" fill="#9c27b0"/><circle cx="36" cy="12" r="5.5" fill="#f23645"/></svg>`);
}

function addGear(cx, cy) {
    addHtml(`<svg class="abs" style="left:${cx - 16}px;top:${cy - 16}px" width="32" height="32" viewBox="0 0 32 32">
      <path d="M9 4h14l7 12-7 12H9L2 16z" fill="none" stroke="#131722" stroke-width="2"/><circle cx="16" cy="16" r="4" fill="none" stroke="#131722" stroke-width="2"/></svg>`);
}

addHeader(0, '米ドル／円・1時間・OANDA', 451, 553, ['149.414', '149.505', '149.362', '149.502']);
addHeader(1279, '米ドル／円・15・OANDA', 403, 507, ['149.490', '149.505', '149.489', '149.497']);
addLogo(0);
addLogo(1280);
addFlash(1624, 1212);
addFlash(1621, 2491);
addGear(1810, 1262);
addGear(1809, 2540);

// red double circle next to the flash icon
addHtml(`<svg class="abs" style="left:1680px;top:1190px" width="64" height="44" viewBox="0 0 64 44">
  <circle cx="42" cy="22" r="20" fill="#f0f3fa" stroke="#f7525f" stroke-width="2.5"/><circle cx="42" cy="22" r="6" fill="#f7525f"/>
  <circle cx="21" cy="22" r="20" fill="#f0f3fa" stroke="#f7525f" stroke-width="2.5"/><circle cx="21" cy="22" r="6" fill="#f7525f"/></svg>`);

// time chips on the 1 hour axis, cut off where the next chip covers them
addChip(1152, 1746, 1235, 45, PINK);
addChipText(1168, 1330, 1243, '2025-07-29 (火)');
addChipText(1344, 1402, 1243, '22:00');
addChipText(1415, 1512, 1243, ')7-30 (水)');
addChipText(1532, 1590, 1243, '15:00');
addChipText(1606, 1666, 1243, '22:00');
addChipText(1679, 1731, 1243, ')4:00');

// time chips on the 15 minute axis
addChip(116, 445, 2513, 44, PINK);
addChip(445, 577, 2513, 44, BLUE);
addChip(577, 842, 2513, 44, PINK);
addChip(851, 1149, 2513, 44, PINK);
addChip(1172, 1711, 2513, 44, PINK);
addChipText(130, 290, 2522, '2025-07-29 (火)');
addChipText(307, 368, 2522, '22:30');
addChipText(381, 392, 2522, ')');
addChipText(409, 445, 2522, '00:45');
addChipText(460, 574, 2522, '2025-07-30');
addChipText(592, 752, 2522, '2025-07-30 (水)');
addChipText(770, 830, 2522, '09:00');
addChipText(868, 1028, 2522, '2025-07-30 (水)');
addChipText(1043, 1104, 2522, '15:15');
addChipText(1120, 1134, 2522, ')0');
addChipText(1187, 1347, 2522, '2025-07-30 (水)');
addChipText(1363, 1424, 2522, '22:30');
addChipText(1438, 1449, 2522, ')');
addChipText(1461, 1621, 2522, '2025-07-31 (木)');
addChipText(1637, 1698, 2522, '04:45');
addHtml(`<div class="abs" style="left:1712px;top:2522px;width:30px;overflow:hidden;font-size:21px;line-height:30px;color:#131722">08:15</div>`);
</script>
</body>
</html>
